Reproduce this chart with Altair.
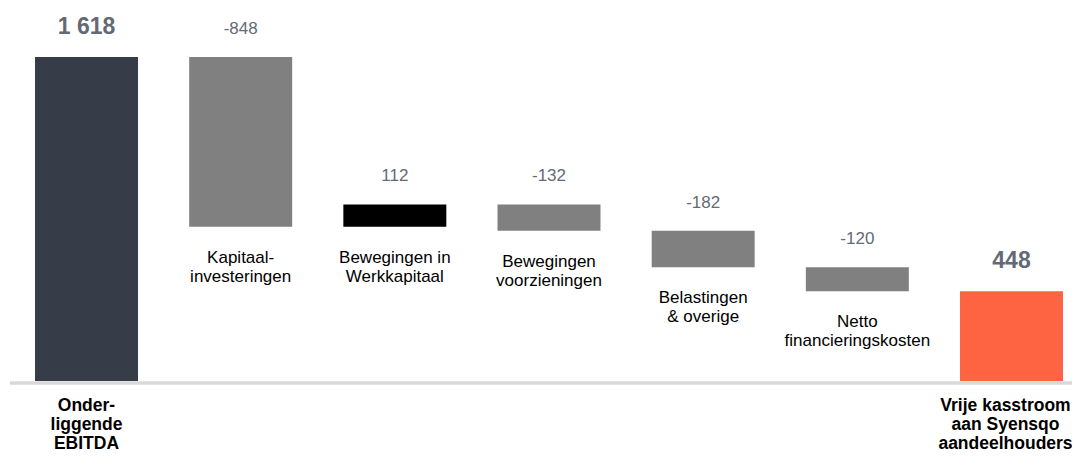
import altair as alt
import pandas as pd

# ---- data ----
categories = [
    "Onder-\nliggende\nEBITDA",
    "Kapitaal-\ninvesteringen",
    "Bewegingen in\nWerkkapitaal",
    "Bewegingen\nvoorzieningen",
    "Belastingen\n& overige",
    "Netto\nfinancieringskosten",
    "Vrije kasstroom\naan Syensqo\naandeelhouders",
]
values = [1618, -848, 112, -132, -182, -120, 448]
kinds = ["start", "delta", "delta", "delta", "delta", "delta", "end"]

# ---- build waterfall table ----
rows = []
running = 0
for cat, v, k in zip(categories, values, kinds):
    if k == "delta":
        s, e = running, running + v
        running = e
        ckey = "neg" if v < 0 else "pos"
    else:
        s, e = 0, v
        running = v
        ckey = k
    rows.append(
        dict(
            cat=cat,
            start=s,
            end=e,
            top=max(s, e),
            bottom=min(s, e),
            kind=k,
            ckey=ckey,
            vlabel=f"{v:,}".replace(",", " "),
        )
    )
df = pd.DataFrame(rows)

W, H = 1064, 446
FONT = "Liberation Sans"

xscale = alt.Scale(paddingInner=0.332, paddingOuter=0.1168, align=0.75)
yscale = alt.Scale(domain=[-364.5, 1862.7], nice=False, zero=False)

base = alt.Chart(df).encode(
    x=alt.X("cat:N", sort=categories, scale=xscale, axis=None)
)

baseline = (
    alt.Chart(pd.DataFrame({"z": [0]}))
    .mark_rule(color="#D9D9D9", strokeWidth=3.5, yOffset=2)
    .encode(y=alt.Y("z:Q", scale=yscale, axis=None), x=alt.value(2), x2=alt.value(W))
)

bars = base.mark_bar().encode(
    y=alt.Y("start:Q", scale=yscale, axis=None),
    y2="end:Q",
    color=alt.Color(
        "ckey:N",
        scale=alt.Scale(
            domain=["start", "neg", "pos", "end"],
            range=["#363C48", "#808080", "#000000", "#FF6442"],
        ),
        legend=None,
    ),
)

delta_values = (
    base.transform_filter(alt.datum.kind == "delta")
    .mark_text(dy=-23, fontSize=17, color="#636A76", font=FONT, baseline="alphabetic")
    .encode(y=alt.Y("top:Q", scale=yscale), text="vlabel:N")
)

total_values = (
    base.transform_filter(alt.datum.kind != "delta")
    .mark_text(dy=-23, fontSize=23, fontWeight="bold", color="#636A76", font=FONT,
               baseline="alphabetic")
    .encode(y=alt.Y("top:Q", scale=yscale), text="vlabel:N")
)

delta_cats = (
    base.transform_filter(alt.datum.kind == "delta")
    .mark_text(
        dy=36, fontSize=17, color="#000000", font=FONT, lineBreak="\n", lineHeight=19,
        baseline="alphabetic",
    )
    .encode(y=alt.Y("bottom:Q", scale=yscale), text="cat:N")
)

start_cat = (
    base.transform_filter(alt.datum.kind == "start")
    .mark_text(
        dy=30, fontSize=17.5, fontWeight="bold", color="#000000", font=FONT,
        lineBreak="\n", lineHeight=19, baseline="alphabetic",
    )
    .encode(y=alt.datum(0, scale=yscale), text="cat:N")
)

end_cat = (
    base.transform_filter(alt.datum.kind == "end")
    .mark_text(
        dy=30, dx=-6, fontSize=17.5, fontWeight="bold", color="#000000", font=FONT,
        lineBreak="\n", lineHeight=19, baseline="alphabetic",
    )
    .encode(y=alt.datum(0, scale=yscale), text="cat:N")
)

chart = (
    alt.layer(baseline, bars, delta_values, total_values, delta_cats, start_cat, end_cat)
    .properties(width=W, height=H, padding=0, autosize="none")
    .configure_view(strokeWidth=0)
)

chart.save("out.html", embed_options={"renderer": "svg", "actions": False})
